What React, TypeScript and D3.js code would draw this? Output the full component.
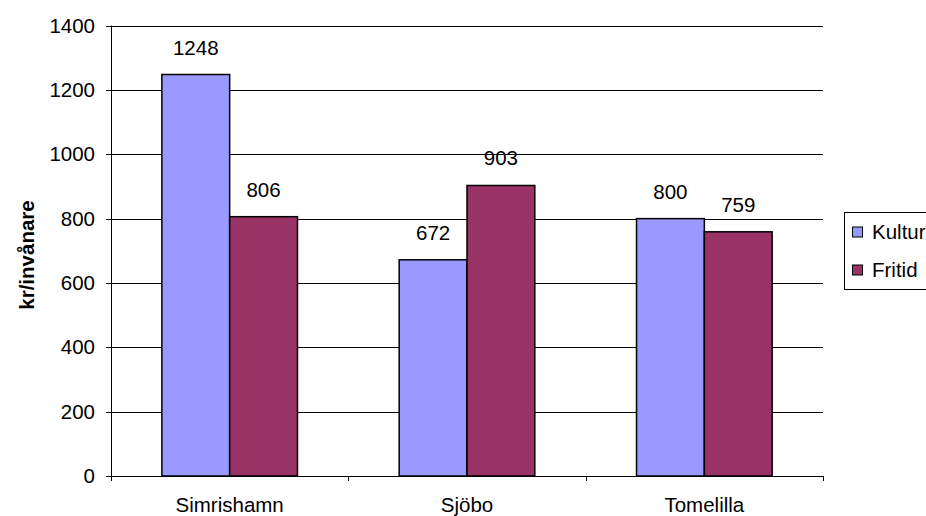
import React from "react";
import * as d3 from "d3";

const categories = ["Simrishamn", "Sjöbo", "Tomelilla"];
const seriesNames = ["Kultur", "Fritid"];
const kultur = [1248, 672, 800];
const fritid = [806, 903, 759];
const yTicks = [0, 200, 400, 600, 800, 1000, 1200, 1400];
const colors = ["#9999FF", "#993366"];

const W = 926;
const H = 516;
const FONT = "'Liberation Sans', Arial, sans-serif";
const FS = 20.5;

export default function App() {
  const left = 111, right = 823, top = 25.6, bottom = 476;
  const x = d3.scaleBand<string>().domain(categories).range([left, right]).paddingInner(0).paddingOuter(0);
  const y = d3.scaleLinear().domain([0, 1400]).range([bottom, top]);
  const groupW = (x.bandwidth() * 2) / 3.5;
  const xs = d3.scaleBand<string>().domain(seriesNames).range([0, groupW]).padding(0);
  const series = [kultur, fritid];

  return (
    <svg width={W} height={H} style={{ position: "absolute", left: 0, top: 0 }} fontFamily={FONT}>
      <rect x={0} y={0} width={W} height={H} fill="#fff" />
      {/* gridlines */}
      {yTicks.map((t) => (
        <g key={t}>
          <line x1={left - 5} x2={right} y1={Math.round(y(t)) + 0.5} y2={Math.round(y(t)) + 0.5} stroke="#000" strokeWidth={1} />
          <text x={95} y={y(t)} dy="0.35em" textAnchor="end" fontSize={FS} fill="#000">{t}</text>
        </g>
      ))}
      {/* y axis */}
      <line x1={left + 0.5} x2={left + 0.5} y1={top} y2={bottom} stroke="#000" />
      {/* x ticks */}
      {[...categories.map((c) => x(c)!), right].map((v, i) => (
        <line key={i} x1={Math.round(v) + 0.5} x2={Math.round(v) + 0.5} y1={bottom} y2={bottom + 5} stroke="#000" />
      ))}
      {/* bars */}
      {series.map((vals, si) =>
        vals.map((v, ci) => {
          const cx = x(categories[ci])! + (x.bandwidth() - groupW) / 2 + xs(seriesNames[si])!;
          return (
            <g key={`${si}-${ci}`}>
              <rect x={cx} y={y(v)} width={xs.bandwidth()} height={bottom - y(v)} fill={colors[si]} stroke="#000" strokeWidth={1.5} />
              <text x={cx + xs.bandwidth() / 2} y={y(v) - 20} textAnchor="middle" fontSize={FS} fill="#000">{v}</text>
            </g>
          );
        })
      )}
      {/* category labels */}
      {categories.map((c) => (
        <text key={c} x={x(c)! + x.bandwidth() / 2} y={511.5} textAnchor="middle" fontSize={FS} fill="#000">{c}</text>
      ))}
      {/* axis title */}
      <text transform="translate(34,255) rotate(-90)" textAnchor="middle" fontSize={FS} fontWeight="bold" fill="#000">kr/invånare</text>
      {/* legend */}
      <rect x={844.5} y={212.5} width={120} height={77} fill="#fff" stroke="#000" strokeWidth={1} />
      {seriesNames.map((s, i) => (
        <g key={s}>
          <rect x={852.5} y={227 + i * 38} width={10} height={10} fill={colors[i]} stroke="#000" strokeWidth={1} />
          <text x={872} y={238.5 + i * 38} fontSize={FS} fill="#000">{s}</text>
        </g>
      ))}
    </svg>
  );
}
